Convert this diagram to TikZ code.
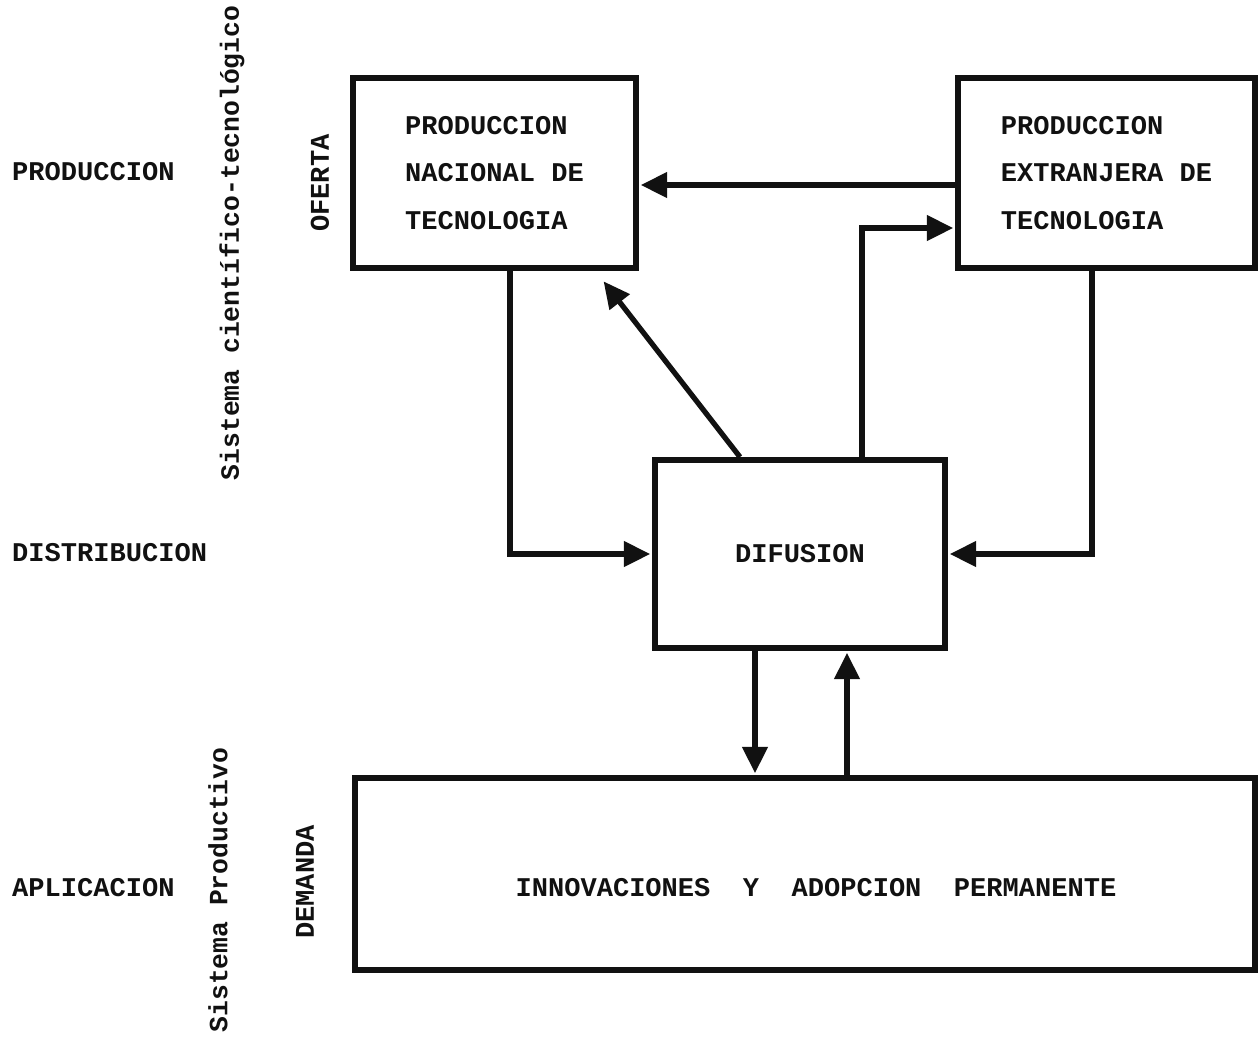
\documentclass[tikz,border=0pt]{standalone}
\usepackage{fontspec}
\setmonofont{Liberation Mono}
\usepackage{tikz}
\usetikzlibrary{arrows.meta,calc}
\definecolor{inkblack}{HTML}{111111}
\tikzset{every node/.append style={font=\ttfamily\bfseries\fontsize{15.4}{27}\selectfont,text=inkblack}}
\tikzset{
  blok/.style={draw=inkblack,line width=3.4pt,align=left,inner sep=0pt},
  flow/.style={-{Triangle[length=15pt,width=14pt]},draw=inkblack,line width=3pt,shorten >=1pt},
  sidetxt/.style={rotate=90,font=\ttfamily\bfseries\fontsize{15}{18}\selectfont}
}

\begin{document}
\begin{tikzpicture}[x=0.02cm,y=-0.02cm]
  % pixel grid of the scan, y runs downwards
  \useasboundingbox (0,0) rectangle (1259,1036);
  \node[blok,minimum width=5.66cm,minimum height=3.8cm] (pn) at (494.5,173)
    {PRODUCCION\\NACIONAL DE\\TECNOLOGIA};
  \node[blok,minimum width=5.94cm,minimum height=3.8cm] (pe) at (1106.5,173)
    {PRODUCCION\\EXTRANJERA DE\\TECNOLOGIA};
  \node[blok,minimum width=5.8cm,minimum height=3.76cm] (dif) at (800,554) {DIFUSION};
  \node[blok,minimum width=18cm,minimum height=3.84cm] (inn) at (805,874) {};
  \node (inntxt) at (816,888) {INNOVACIONES~~Y~~ADOPCION~~PERMANENTE};
  % flows between the boxes
  \draw[flow] ($(pe.west)+(0,12)$) -- ($(pn.east)+(0,12)$);
  \draw[flow] ($(dif.north)+(-60,0)$) -- ($(pn.south)+(108,9)$);
  \draw[flow] ($(dif.north)+(62,0)$) |- ($(pe.west)+(0,55)$);
  \draw[flow] ($(pn.south)+(15.5,0)$) |- (dif.west);
  \draw[flow] ($(pe.south)+(-14.5,0)$) |- (dif.east);
  \coordinate (dn) at ($(dif.south)+(-45,0)$);
  \coordinate (up) at ($(dif.south)+(47,0)$);
  \draw[flow] (dn) -- (dn |- inn.north);
  \draw[flow] (up |- inn.north) -- (up);
  % side labels
  \node[anchor=west] (lprod) at (6,172) {PRODUCCION};
  \node[anchor=west] (ldist) at (6,553) {DISTRIBUCION};
  \node[anchor=west] (lapl) at (6,888) {APLICACION};
  \node[sidetxt] (sct) at (232,243) {Sistema científico-tecnológico};
  \node[sidetxt] (sprod) at (218,890) {Sistema Productivo};
  \node[rotate=90] (oferta) at (320,183) {OFERTA};
  \node[rotate=90] (demanda) at (305,882) {DEMANDA};
\end{tikzpicture}
\end{document}
